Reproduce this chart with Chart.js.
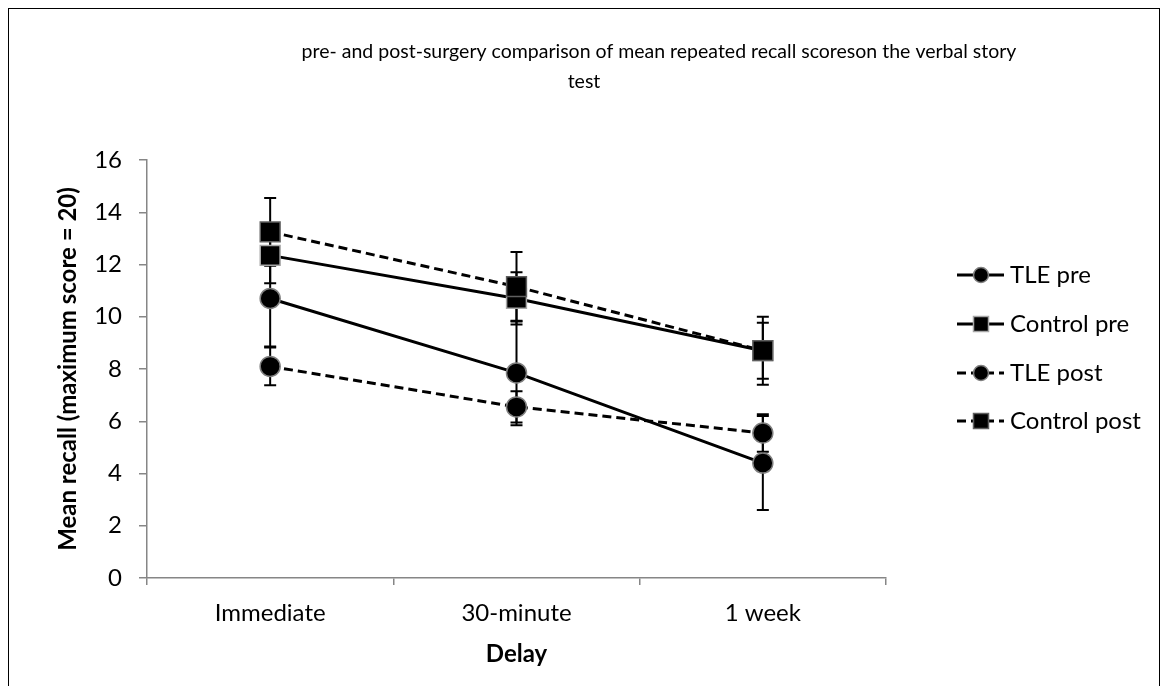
<!DOCTYPE html>
<html>
<head>
<meta charset="utf-8">
<script src="https://cdn.jsdelivr.net/npm/chart.js@4"></script>
<style>
  html, body { margin: 0; padding: 0; background: #fff; }
  #wrap { position: relative; width: 1167px; height: 686px; }
  #frame { position: absolute; left: 8px; top: 8px; width: 1152px; height: 700px; border: 1px solid #000; box-sizing: border-box; }
  canvas { position: absolute; left: 0; top: 0; }
</style>
</head>
<body>
<div id="wrap">
  <div id="frame"></div>
  <canvas id="myChart" width="1167" height="686"></canvas>
</div>
<script>
// data
var delays = ["Immediate", "30-minute", "1 week"];
var tlePre = [10.7, 7.85, 4.4];
var tlePreErr = [1.84, 2.0, 1.8];
var controlPre = [12.35, 10.7, 8.7];
var controlPreErr = [1.07, 1.0, 1.07];
var tlePost = [8.1, 6.55, 5.55];
var tlePostErr = [0.72, 0.6, 0.72];
var controlPost = [13.25, 11.15, 8.7];
var controlPostErr = [1.3, 1.33, 1.3];
var yTicks = [0, 2, 4, 6, 8, 10, 12, 14, 16];

var titleLines = ["pre- and post-surgery comparison of mean repeated recall scoreson the verbal story", "test"];
var font = "Lato, 'Liberation Sans', sans-serif";
var axisGrey = '#868686';

// error bars, drawn under the markers
var errorBars = {
    id: 'errorBars',
    beforeDatasetsDraw: function (chart) {
        var ctx = chart.ctx;
        var yScale = chart.scales.y;
        ctx.save();
        ctx.strokeStyle = '#000';
        ctx.lineWidth = 2;
        chart.data.datasets.forEach(function (ds, i) {
            var meta = chart.getDatasetMeta(i);
            meta.data.forEach(function (pt, j) {
                var v = ds.data[j], e = ds.errors[j];
                var top = yScale.getPixelForValue(v + e);
                var bot = yScale.getPixelForValue(v - e);
                ctx.beginPath();
                ctx.moveTo(pt.x, top); ctx.lineTo(pt.x, bot);
                ctx.moveTo(pt.x - 6, top); ctx.lineTo(pt.x + 6, top);
                ctx.moveTo(pt.x - 6, bot); ctx.lineTo(pt.x + 6, bot);
                ctx.stroke();
            });
        });
        ctx.restore();
    }
};

// title + legend on the canvas
var extras = {
    id: 'extras',
    afterDraw: function (chart) {
        var ctx = chart.ctx;
        ctx.save();
        ctx.fillStyle = '#000';
        ctx.textAlign = 'center';
        ctx.textBaseline = 'middle';
        ctx.font = "19.5px " + font;
        ctx.fillText(titleLines[0], 659, 52);
        ctx.fillText(titleLines[1], 584, 82);

        // legend
        var ys = [275, 324, 373, 421];
        chart.data.datasets.forEach(function (ds, i) {
            var y = ys[i];
            ctx.strokeStyle = '#000';
            ctx.lineWidth = 3;
            ctx.setLineDash(ds.borderDash || []);
            ctx.beginPath();
            ctx.moveTo(957, y); ctx.lineTo(1004, y);
            ctx.stroke();
            ctx.setLineDash([]);
            ctx.fillStyle = '#000';
            ctx.strokeStyle = ds.pointBorderColor;
            ctx.lineWidth = 1.5;
            ctx.beginPath();
            if (ds.pointStyle === 'circle') {
                ctx.arc(981, y, 7.5, 0, Math.PI * 2);
            } else {
                ctx.rect(973.5, y - 7.5, 15, 15);
            }
            ctx.fill();
            ctx.stroke();
            ctx.fillStyle = '#000';
            ctx.textAlign = 'left';
            ctx.font = "24px " + font;
            ctx.fillText(ds.label, 1010, y);
        });
        ctx.restore();
    }
};

var ctx = document.getElementById('myChart').getContext('2d');
var chart = new Chart(ctx, {
    type: 'line',
    data: {
        labels: delays,
        datasets: [{
            label: 'TLE pre',
            data: tlePre,
            errors: tlePreErr,
            borderColor: '#000',
            borderWidth: 3,
            pointStyle: 'circle',
            pointRadius: 10,
            pointBackgroundColor: '#000',
            pointBorderColor: '#7f7f7f',
            pointBorderWidth: 1.5,
            order: 3
        },
        {
            label: 'Control pre',
            data: controlPre,
            errors: controlPreErr,
            borderColor: '#000',
            borderWidth: 3,
            pointStyle: 'rect',
            pointRadius: 14,
            pointBackgroundColor: '#000',
            pointBorderColor: '#a6a6a6',
            pointBorderWidth: 1.5,
            order: 2
        },
        {
            label: 'TLE post',
            data: tlePost,
            errors: tlePostErr,
            borderColor: '#000',
            borderWidth: 3,
            borderDash: [9, 5],
            pointStyle: 'circle',
            pointRadius: 10,
            pointBackgroundColor: '#000',
            pointBorderColor: '#7f7f7f',
            pointBorderWidth: 1.5,
            order: 1
        },
        {
            label: 'Control post',
            data: controlPost,
            errors: controlPostErr,
            borderColor: '#000',
            borderWidth: 3,
            borderDash: [9, 5],
            pointStyle: 'rect',
            pointRadius: 14,
            pointBackgroundColor: '#000',
            pointBorderColor: '#5f5f5f',
            pointBorderWidth: 1.5,
            order: 0
        }]
    },
    options: {
        responsive: false,
        animation: false,
        layout: { padding: { left: 0, right: 281, top: 160, bottom: 0 } },
        plugins: {
            legend: { display: false },
            tooltip: { enabled: false }
        },
        scales: {
            x: {
                offset: true,
                afterFit: function (scale) { scale.height = 108; },
                grid: { offset: true, drawOnChartArea: false, drawTicks: true, tickLength: 7, color: axisGrey, lineWidth: 1.5 },
                border: { color: axisGrey, width: 1.5 },
                ticks: { color: '#000', padding: 14, font: { family: font, size: 24 } },
                title: { display: true, text: 'Delay', color: '#000', padding: { top: 4, bottom: 17 }, font: { family: font, size: 24, weight: 'bold' } }
            },
            y: {
                min: 0,
                max: 16,
                afterFit: function (scale) { scale.width = 147; },
                afterBuildTicks: function (scale) { scale.ticks = yTicks.map(function (v) { return { value: v }; }); },
                grid: { drawOnChartArea: false, drawTicks: true, tickLength: 8, color: axisGrey, lineWidth: 1.5 },
                border: { color: axisGrey, width: 1.5 },
                ticks: { color: '#000', padding: 17, font: { family: font, size: 24 } },
                title: { display: true, text: 'Mean recall (maximum score = 20)', color: '#000', padding: { top: 54, bottom: 0 }, font: { family: font, size: 24, weight: 'bold' } }
            }
        }
    },
    plugins: [errorBars, extras]
});
</script>
</body>
</html>
